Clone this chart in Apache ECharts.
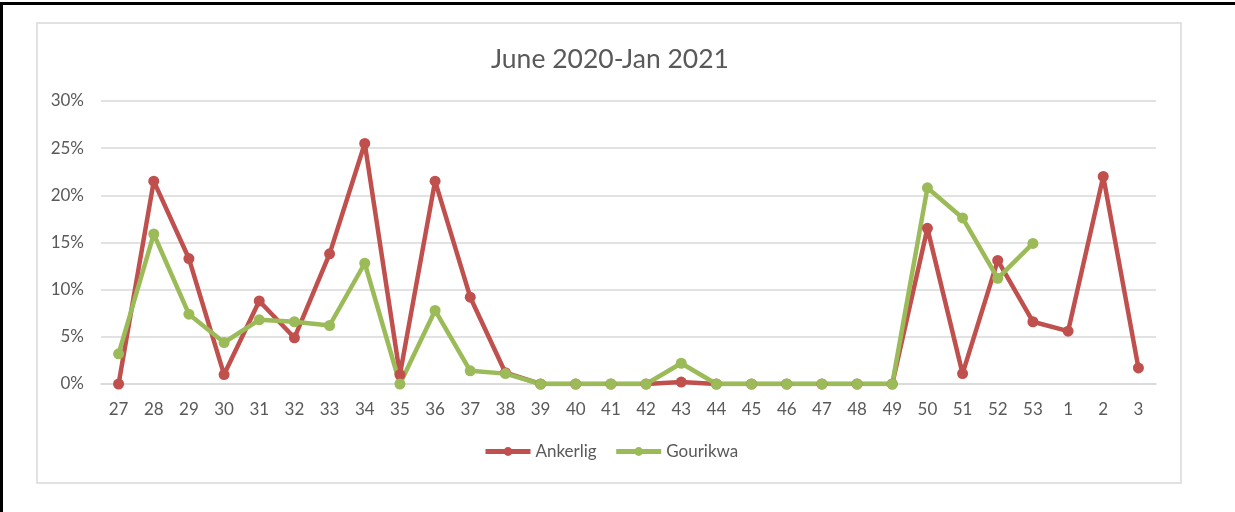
<!DOCTYPE html>
<html>
<head>
<meta charset="utf-8">
<script src="https://cdn.jsdelivr.net/npm/echarts@6/dist/echarts.min.js"></script>
<style>
  html, body { margin: 0; padding: 0; background: #fff; }
  #chart { width: 1235px; height: 512px; }
</style>
</head>
<body>
<div id="chart"></div>
<script>
// week numbers, June 2020 - Jan 2021
const weeks = ["27", "28", "29", "30", "31", "32", "33", "34", "35", "36", "37", "38", "39", "40", "41", "42",
  "43", "44", "45", "46", "47", "48", "49", "50", "51", "52", "53", "1", "2", "3"];

// values in percent
const ankerlig = [0, 21.5, 13.3, 1.0, 8.8, 4.9, 13.8, 25.5, 1.0, 21.5, 9.2, 1.2, 0, 0, 0, 0,
  0.2, 0, 0, 0, 0, 0, 0, 16.5, 1.1, 13.1, 6.6, 5.6, 22.0, 1.7];
const gourikwa = [3.2, 15.9, 7.4, 4.4, 6.8, 6.6, 6.2, 12.8, 0, 7.8, 1.4, 1.1, 0, 0, 0, 0,
  2.2, 0, 0, 0, 0, 0, 0, 20.8, 17.6, 11.2, 14.9, null, null, null];

const yTicks = [0, 5, 10, 15, 20, 25, 30];

const font = "Lato, 'Liberation Sans', sans-serif";
const gray = "#595959";

const chart = echarts.init(document.getElementById("chart"));

const option = {
  backgroundColor: "#fff",
  animation: false,
  title: {
    text: "June 2020-Jan 2021",
    left: 486,
    top: 41,
    textStyle: { fontFamily: font, fontSize: 26.5, fontWeight: "normal", color: gray }
  },
  legend: {
    data: ["Ankerlig", "Gourikwa"],
    left: 483,
    top: 443,
    padding: 0,
    itemWidth: 45,
    itemHeight: 11,
    itemGap: 17,
    lineStyle: { width: 5 },
    textStyle: { fontFamily: font, fontSize: 17, color: gray }
  },
  grid: { left: 101, top: 101, width: 1055, height: 283 },
  xAxis: {
    type: "category",
    data: weeks,
    boundaryGap: true,
    axisLine: { lineStyle: { color: "#d9d9d9", width: 1.5 } },
    axisTick: { show: false },
    axisLabel: { fontFamily: font, fontSize: 17, color: gray, margin: 17 }
  },
  yAxis: {
    type: "value",
    min: yTicks[0],
    max: yTicks[yTicks.length - 1],
    interval: 5,
    axisLine: { show: false },
    axisTick: { show: false },
    splitLine: { lineStyle: { color: "#d9d9d9", width: 1.5 } },
    axisLabel: { fontFamily: font, fontSize: 17, color: gray, margin: 17, formatter: "{value}%" }
  },
  graphic: [
    { type: "rect", shape: { x: 37, y: 23, width: 1144, height: 460 },
      style: { fill: "none", stroke: "#d9d9d9", lineWidth: 1.5 }, z: -1 },
    { type: "rect", shape: { x: 0, y: 2, width: 1235, height: 3 }, style: { fill: "#000" } },
    { type: "rect", shape: { x: 0, y: 2, width: 3, height: 510 }, style: { fill: "#000" } }
  ],
  series: [
    {
      name: "Ankerlig",
      type: "line",
      data: ankerlig,
      color: "#C0504D",
      symbol: "circle",
      symbolSize: 11,
      lineStyle: { width: 4.5 }
    },
    {
      name: "Gourikwa",
      type: "line",
      data: gourikwa,
      color: "#9BBB59",
      symbol: "circle",
      symbolSize: 11,
      lineStyle: { width: 4.5 }
    }
  ]
};

chart.setOption(option);

window.addEventListener("resize", () => chart.resize());
</script>
</body>
</html>
